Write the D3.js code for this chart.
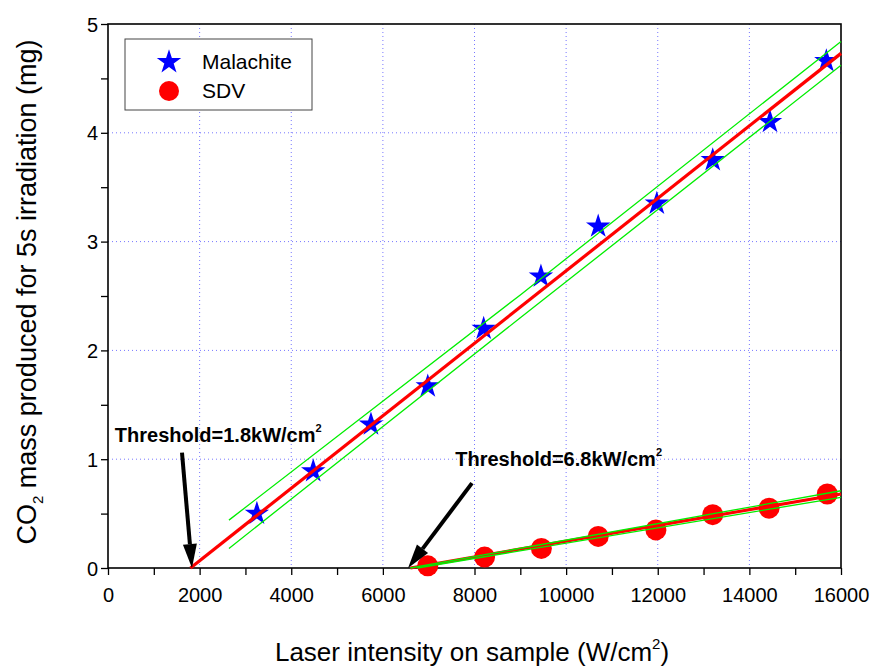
<!DOCTYPE html>
<html>
<head>
<meta charset="utf-8">
<script src="https://cdn.jsdelivr.net/npm/d3@7"></script>
<style>
  body { margin: 0; background: #fff; }
  svg { font-family: Arial, "Liberation Sans", sans-serif; }
</style>
</head>
<body>
<svg id="chart"></svg>
<script>
// Data
const malachiteX = [3250, 4480, 5740, 6980, 8200, 9450, 10700, 11980, 13200, 14450, 15680];
const malachiteY = [0.50, 0.89, 1.32, 1.67, 2.20, 2.68, 3.14, 3.35, 3.75, 4.10, 4.66];
const sdvX = [6980, 8220, 9460, 10700, 11960, 13200, 14430, 15700];
const sdvY = [0.02, 0.10, 0.18, 0.29, 0.35, 0.49, 0.55, 0.68];

// Linear fits and their confidence bands
const malFitX = [1800, 16000];
const malFitY = [0, 4.73];
const malBandX = [2640, 9000, 16000];
const malUpper = [0.44, 2.51, 4.84];
const malLower = [0.18, 2.30, 4.62];
const sdvFitX = [6600, 16000];
const sdvFitY = [0, 0.68];
const sdvUpperX = [6600, 16000];
const sdvUpper = [0, 0.71];
const sdvLowerX = [6750, 16000];
const sdvLower = [0, 0.65];

const xTicks = [0, 2000, 4000, 6000, 8000, 10000, 12000, 14000, 16000];
const yTicks = [0, 1, 2, 3, 4, 5];

// Threshold annotations: arrow start -> arrow tip, label position
const arrows = [
  { x1: 1615, y1: 1.06, x2: 1833, y2: 0 },
  { x1: 7945, y1: 0.78, x2: 6550, y2: 0 }
];
const labels = [
  { x: 150, y: 1.16, text: "Threshold=1.8kW/cm" },
  { x: 7580, y: 0.94, text: "Threshold=6.8kW/cm" }
];

document.addEventListener("DOMContentLoaded", () => {
  const W = 872, H = 666;
  const left = 108, right = 841, top = 24, bottom = 568;

  const svg = d3.select("#chart").attr("width", W).attr("height", H);

  const x = d3.scaleLinear().domain([0, 16000]).range([left, right]);
  const y = d3.scaleLinear().domain([0, 5]).range([bottom, top]);

  // dotted grid
  svg.append("g")
    .selectAll("line")
    .data(xTicks.slice(1, -1))
    .join("line")
      .attr("x1", d => x(d)).attr("x2", d => x(d))
      .attr("y1", top).attr("y2", bottom)
      .attr("stroke", "#7777ff").attr("stroke-dasharray", "1,3");
  svg.append("g")
    .selectAll("line")
    .data(yTicks.slice(1, -1))
    .join("line")
      .attr("x1", left).attr("x2", right)
      .attr("y1", d => y(d)).attr("y2", d => y(d))
      .attr("stroke", "#7777ff").attr("stroke-dasharray", "1,3");

  // axes
  const xAxis = d3.axisBottom(x).tickValues(d3.range(0, 16001, 1000))
    .tickSize(7).tickFormat(d => d % 2000 === 0 ? d : "");
  const gx = svg.append("g").attr("transform", `translate(0,${bottom})`).call(xAxis);
  gx.select(".domain").remove();
  gx.selectAll(".tick line").attr("stroke", "#000").attr("stroke-width", 1.3);
  gx.selectAll("text").attr("font-size", 20).attr("dy", "1.2em").attr("fill", "#000");

  const yAxis = d3.axisLeft(y).tickValues(d3.range(0, 5.01, 0.5))
    .tickSize(7).tickFormat(d => Number.isInteger(d) ? d : "");
  const gy = svg.append("g").attr("transform", `translate(${left},0)`).call(yAxis);
  gy.select(".domain").remove();
  gy.selectAll(".tick line").attr("stroke", "#000").attr("stroke-width", 1.3);
  gy.selectAll("text").attr("font-size", 20).attr("x", -10).attr("dy", "0.35em").attr("fill", "#000");

  // frame
  svg.append("rect")
    .attr("x", left).attr("y", top)
    .attr("width", right - left).attr("height", bottom - top)
    .attr("fill", "none").attr("stroke", "#000").attr("stroke-width", 1.6);

  // markers
  const star = d3.symbol().type(d3.symbolStar).size(185);
  svg.append("g")
    .selectAll("path")
    .data(malachiteX.map((d, i) => [d, malachiteY[i]]))
    .join("path")
      .attr("d", star)
      .attr("transform", d => `translate(${x(d[0])},${y(d[1])})`)
      .attr("fill", "#0000ff");
  svg.append("g")
    .selectAll("circle")
    .data(sdvX.map((d, i) => [d, sdvY[i]]))
    .join("circle")
      .attr("cx", d => x(d[0])).attr("cy", d => y(d[1]))
      .attr("r", 10.5)
      .attr("fill", "#ff0000");

  // fit lines
  const line = d3.line().x(d => x(d[0])).y(d => y(d[1]));
  const zip = (xs, ys) => xs.map((d, i) => [d, ys[i]]);
  [zip(malFitX, malFitY), zip(sdvFitX, sdvFitY)].forEach(pts => {
    svg.append("path").attr("d", line(pts))
      .attr("fill", "none").attr("stroke", "#ff0000").attr("stroke-width", 3.2);
  });
  [zip(malBandX, malUpper), zip(malBandX, malLower), zip(sdvUpperX, sdvUpper), zip(sdvLowerX, sdvLower)].forEach(pts => {
    svg.append("path").attr("d", line(pts))
      .attr("fill", "none").attr("stroke", "#00ee00").attr("stroke-width", 1.3);
  });

  // arrows
  arrows.forEach(a => {
    const x1 = x(a.x1), y1 = y(a.y1), x2 = x(a.x2), y2 = y(a.y2);
    const ang = Math.atan2(y2 - y1, x2 - x1);
    const headL = 24, headW = 7;
    const bx = x2 - headL * Math.cos(ang), by = y2 - headL * Math.sin(ang);
    svg.append("line")
      .attr("x1", x1).attr("y1", y1).attr("x2", bx).attr("y2", by)
      .attr("stroke", "#000").attr("stroke-width", 4);
    const px = -Math.sin(ang) * headW, py = Math.cos(ang) * headW;
    svg.append("path")
      .attr("d", `M${x2},${y2}L${bx + px},${by + py}L${bx - px},${by - py}Z`)
      .attr("fill", "#000");
  });

  // threshold labels
  labels.forEach(l => {
    const t = svg.append("text")
      .attr("x", x(l.x)).attr("y", y(l.y))
      .attr("font-size", 20).attr("font-weight", "bold").attr("fill", "#000");
    t.append("tspan").text(l.text);
    t.append("tspan").attr("dy", -10).attr("font-size", 11).text("2");
  });

  // legend
  const lg = svg.append("g");
  lg.append("rect")
    .attr("x", 125).attr("y", 39).attr("width", 187).attr("height", 71)
    .attr("fill", "#fff").attr("stroke", "#444").attr("stroke-width", 1);
  lg.append("path").attr("d", star).attr("transform", "translate(169,62)").attr("fill", "#0000ff");
  lg.append("circle").attr("cx", 169).attr("cy", 91).attr("r", 10).attr("fill", "#ff0000");
  lg.append("text").attr("x", 202).attr("y", 69).attr("font-size", 21).text("Malachite");
  lg.append("text").attr("x", 202).attr("y", 98).attr("font-size", 21).text("SDV");

  // axis titles
  const xt = svg.append("text")
    .attr("x", 472).attr("y", 661)
    .attr("text-anchor", "middle").attr("font-size", 26);
  xt.append("tspan").text("Laser intensity on sample (W/cm");
  xt.append("tspan").attr("dy", -12).attr("font-size", 15).text("2");
  xt.append("tspan").attr("dy", 12).text(")");

  const yt = svg.append("text")
    .attr("transform", `translate(36,${(top + bottom) / 2 - 4}) rotate(-90)`)
    .attr("text-anchor", "middle").attr("font-size", 27);
  yt.append("tspan").text("CO");
  yt.append("tspan").attr("dy", 7).attr("font-size", 15).text("2");
  yt.append("tspan").attr("dy", -7).text(" mass produced for 5s irradiation (mg)");
});
</script>
</body>
</html>
